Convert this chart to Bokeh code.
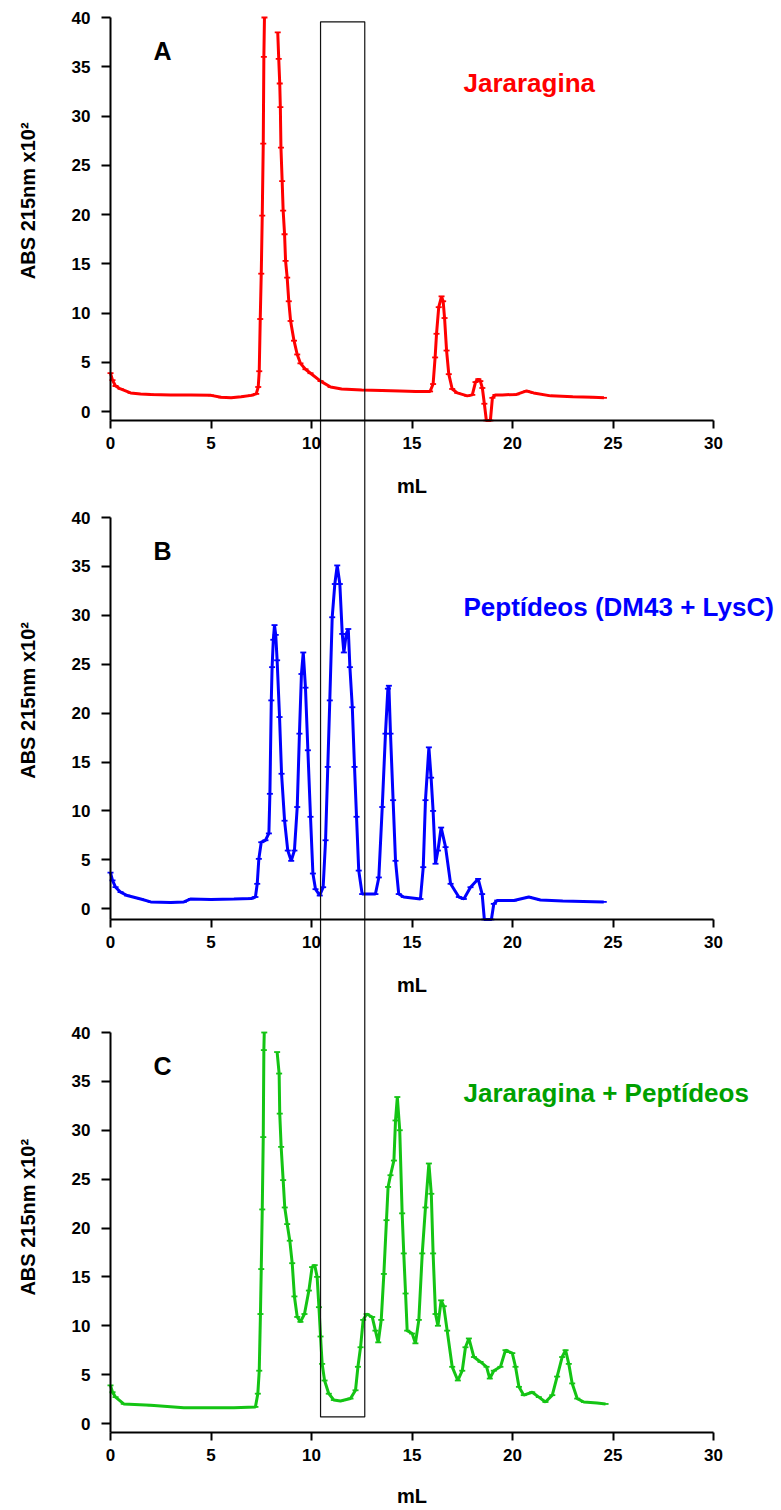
import math
from bokeh.plotting import figure
from bokeh.models import Label, FixedTicker, Range1d, LinearAxis
from bokeh.embed import file_html
from bokeh.resources import INLINE

NaN = float("nan")

# ---------------- data (mL, ABS 215nm x10^2) ----------------
ml_a = [0, 0.1, 0.25, 0.5, 1.0, 1.5, 2.0, 3.0, 4.0, 5.0, 5.5, 6.0, 6.5, 7.0, 7.25, 7.35,
        7.4, 7.45, 7.5, 7.55, 7.6, 7.63, 7.66, NaN,
        8.32, 8.37, 8.42, 8.45, 8.48, 8.54, 8.59, 8.66, 8.71, 8.79, 8.87, 8.96, 9.13, 9.29,
        9.45, 9.7, 9.95, 10.45, 10.95, 11.5, 12.5, 13.5, 14.4, 15.2, 15.9, 16.05, 16.15,
        16.22, 16.33, 16.47, 16.55, 16.62, 16.72, 16.83, 17.0, 17.25, 17.75, 18.0, 18.16,
        18.3, 18.4, 18.5, 18.6, 18.7, 18.8, 18.9, 19.0, 19.15, 19.5, 20.2, 20.7, 21.05,
        21.9, 23.0, 24.0, 24.55]
abs_a = [3.9, 3.2, 2.6, 2.3, 1.9, 1.8, 1.75, 1.7, 1.7, 1.65, 1.45, 1.4, 1.5, 1.65, 1.8, 2.5,
         4.1, 9.4, 14.0, 19.9, 27.2, 36.0, 40.0, NaN,
         38.5, 35.8, 33.3, 30.9, 26.8, 23.4, 20.4, 18.0, 15.3, 13.6, 11.2, 9.2, 7.2, 5.8,
         4.9, 4.3, 3.9, 3.1, 2.5, 2.3, 2.2, 2.15, 2.1, 2.05, 2.05, 2.8, 5.5,
         7.9, 10.6, 11.7, 11.2, 9.5, 6.2, 3.8, 2.3, 1.9, 1.6, 1.7, 3.0,
         3.3, 3.1, 2.4, 0.8, -0.9, -0.9, -0.9, 1.4, 1.7, 1.7, 1.75, 2.1, 1.9,
         1.6, 1.5, 1.45, 1.4]

ml_b = [0, 0.1, 0.25, 0.5, 0.83, 1.5, 2.0, 3.0, 3.65, 4.0, 5.0, 6.14, 7.0, 7.21, 7.3, 7.38,
        7.5, 7.71, 7.88, 7.93, 8.0, 8.04, 8.1, 8.16, 8.22, 8.29, 8.41, 8.51, 8.66, 8.82,
        8.99, 9.15, 9.29, 9.4, 9.5, 9.59, 9.7, 9.82, 9.95, 10.07, 10.2, 10.41, 10.58, 10.7,
        10.81, 10.91, 11.03, 11.16, 11.28, 11.41, 11.53, 11.61, 11.73, 11.83, 11.91, 12.03,
        12.14, 12.24, 12.35, 12.52, 13.18, 13.35, 13.52, 13.68, 13.8, 13.85, 13.93, 14.06,
        14.18, 14.34, 14.59, 15.42, 15.56, 15.67, 15.84, 15.95, 16.05, 16.17, 16.29, 16.45,
        16.67, 16.92, 17.33, 17.58, 17.91, 18.29, 18.49, 18.6, 18.75, 18.95, 19.07, 19.24,
        20.07, 20.81, 21.39, 22.5, 24.54]
abs_b = [3.7, 2.9, 2.2, 1.7, 1.35, 1.0, 0.7, 0.65, 0.7, 1.0, 0.95, 1.0, 1.05, 1.2, 2.55, 5.1,
         6.8, 7.0, 7.7, 11.75, 21.3, 24.7, 27.5, 29.0, 28.0, 25.4, 19.6, 13.8, 9.0, 5.95,
         4.9, 5.95, 10.4, 17.9, 24.0, 26.2, 22.6, 16.2, 9.4, 3.6, 2.0, 1.35, 2.2, 7.0,
         14.5, 21.3, 29.8, 33.2, 35.1, 33.2, 28.1, 26.2, 28.1, 28.6, 24.7, 20.6,
         14.5, 9.4, 3.9, 1.5, 1.5, 3.2, 10.4, 17.9, 22.5, 22.8, 17.9, 11.1,
         4.9, 1.5, 1.2, 1.0, 4.25, 11.1, 16.5, 13.4, 10.0, 4.6, 5.95, 8.3,
         6.3, 2.55, 1.2, 1.0, 2.2, 3.05, 1.5, -1.1, -1.1, -1.1, 0.5, 0.84,
         0.84, 1.2, 0.9, 0.8, 0.7]

ml_c = [0, 0.1, 0.25, 0.66, 2.0, 3.65, 5.0, 6.14, 7.21, 7.33, 7.4, 7.46, 7.5, 7.55, 7.6,
        7.63, 7.65, NaN,
        8.29, 8.39, 8.42, 8.49, 8.59, 8.67, 8.79, 8.92, 9.04, 9.15, 9.29, 9.45, 9.65, 9.87,
        10.03, 10.16, 10.28, 10.37, 10.45, 10.53, 10.65, 10.86, 11.11, 11.44, 11.94, 12.19,
        12.31, 12.44, 12.57, 12.74, 13.02, 13.18, 13.32, 13.47, 13.6, 13.73, 13.81, 13.93,
        14.1, 14.18, 14.27, 14.39, 14.51, 14.59, 14.68, 14.76, 15.01, 15.17, 15.34, 15.51,
        15.67, 15.84, 15.96, 16.05, 16.17, 16.29, 16.45, 16.58, 16.75, 17.0, 17.28, 17.5,
        17.66, 17.83, 18.08, 18.41, 18.71, 18.87, 19.07, 19.4, 19.65, 19.99, 20.15, 20.32,
        20.56, 20.98, 21.31, 21.64, 21.98, 22.22, 22.47, 22.64, 22.8, 22.97, 23.22, 23.55,
        24.21, 24.63]
abs_c = [3.9, 3.2, 2.7, 2.0, 1.86, 1.6, 1.6, 1.6, 1.7, 3.05, 5.4, 11.2, 15.8, 21.9, 29.3,
         38.2, 40.0, NaN,
         38.0, 35.8, 31.7, 28.3, 24.9, 22.1, 20.4, 18.7, 16.4, 13.0, 10.9, 10.4, 11.2, 13.6,
         16.0, 16.2, 15.0, 11.9, 8.9, 6.1, 4.4, 3.05, 2.4, 2.3, 2.55, 3.4,
         5.8, 7.8, 10.6, 11.2, 10.9, 9.5, 8.3, 10.6, 15.3, 20.8, 24.2, 25.4,
         26.9, 31.0, 33.4, 30.0, 21.5, 17.4, 13.3, 9.5, 9.2, 8.2, 10.6, 17.4,
         22.1, 26.6, 23.5, 17.4, 11.2, 10.0, 12.6, 12.0, 9.5, 5.8, 4.4, 5.4,
         7.8, 8.7, 6.8, 6.3, 5.8, 4.6, 5.4, 5.8, 7.5, 7.2, 5.8, 3.75,
         2.9, 3.2, 2.7, 2.2, 2.9, 4.8, 6.8, 7.5, 6.1, 4.1, 2.55, 2.2,
         2.1, 2.0]

x_ticks = [0, 5, 10, 15, 20, 25, 30]
y_ticks = [0, 5, 10, 15, 20, 25, 30, 35, 40]

panel_letters = ["A", "B", "C"]
panel_titles = ["Jararagina", "Peptídeos (DM43 + LysC)", "Jararagina + Peptídeos"]
line_colors = ["#ff0000", "#0000ff", "#14c414"]
title_colors = ["#ff0000", "#0000ff", "#00a000"]
y_label = "ABS 215nm x10²"
x_label = "mL"

# highlighted elution window (mL), from top of panel A (ABS 39.56) to panel C (ABS 0.67)
win_left, win_right = 10.45, 12.65
win_top_a, win_bottom_c = 39.56, 0.67

# ---------------- layout (pixels) ----------------
W, H = 781, 1510
X0_PX, X30_PX = 110, 713                      # where 0 mL and 30 mL sit
# per panel: pixel of value 40, pixel of the x axis, value at x axis
panel_px = [(17, 420, -0.9), (517, 919, -1.1), (1032, 1432, -0.92)]
# per panel: title baseline value, y label centre value, "mL" centre value
title_y = [33.4, 30.8, 33.8]
ylab_y = [21.4, 21.3, 21.1]
xlab_y = [-7.5, -7.8, -7.4]

FONT = "Liberation Sans"

sx = (X30_PX - X0_PX) / 30.0
x_range = Range1d(-X0_PX / sx, (W - X0_PX) / sx)


def y_range_for(top_px, bot_px, vmin, vmax=40.0):
    s = (bot_px - top_px) / (vmax - vmin)
    return Range1d(vmin - (H - bot_px) / s, vmax + top_px / s), s


ranges = [y_range_for(*pp) for pp in panel_px]
names = ["default", "b", "c"]

p = figure(width=W, height=H, x_range=x_range, y_range=ranges[0][0],
           x_axis_location=None, y_axis_location=None,
           output_backend="svg", toolbar_location=None,
           min_border=0, min_border_left=0, min_border_right=0,
           min_border_top=0, min_border_bottom=0)
p.extra_y_ranges = {"b": ranges[1][0], "c": ranges[2][0]}
p.grid.visible = False
p.outline_line_color = None
p.background_fill_color = "white"
p.border_fill_color = "white"


def style_axis(ax):
    ax.axis_line_width = 2
    ax.axis_line_color = "black"
    ax.major_tick_line_width = 2
    ax.major_tick_line_color = "black"
    ax.minor_tick_line_color = None
    ax.major_tick_in = 0
    ax.major_label_text_font = FONT
    ax.major_label_text_font_style = "bold"
    ax.major_label_text_font_size = "17px"
    ax.major_label_text_color = "black"


series = [(ml_a, abs_a), (ml_b, abs_b), (ml_c, abs_c)]

for i in range(3):
    name = names[i]
    vmin = panel_px[i][2]
    xs, ys = series[i]

    p.line(xs, ys, color=line_colors[i], line_width=3, y_range_name=name)
    p.scatter(xs, ys, marker="dash", size=6, color=line_colors[i], line_width=1.8,
              y_range_name=name)

    yax = LinearAxis(y_range_name=name, fixed_location=0, bounds=(vmin, 40),
                     ticker=FixedTicker(ticks=y_ticks))
    style_axis(yax)
    yax.major_tick_out = 9
    yax.major_label_standoff = 11
    p.add_layout(yax, "left")

    xax = LinearAxis(y_range_name=name, fixed_location=vmin, bounds=(0, 30),
                     ticker=FixedTicker(ticks=x_ticks))
    style_axis(xax)
    xax.major_tick_out = 8
    xax.major_label_standoff = 8
    p.add_layout(xax, "below")

    p.add_layout(Label(x=-4.08, y=ylab_y[i], y_range_name=name, text=y_label,
                       angle=math.pi / 2, text_align="center", text_baseline="middle",
                       text_font=FONT, text_font_style="bold", text_font_size="20px",
                       text_color="black"))
    p.add_layout(Label(x=15, y=xlab_y[i], y_range_name=name, text=x_label,
                       text_align="center", text_baseline="middle",
                       text_font=FONT, text_font_style="bold", text_font_size="20px",
                       text_color="black"))
    p.add_layout(Label(x=2.14, y=36.6, y_range_name=name, text=panel_letters[i],
                       text_baseline="alphabetic",
                       text_font=FONT, text_font_style="bold", text_font_size="25px",
                       text_color="black"))
    p.add_layout(Label(x=17.56, y=title_y[i], y_range_name=name, text=panel_titles[i],
                       text_baseline="alphabetic",
                       text_font=FONT, text_font_style="bold", text_font_size="26px",
                       text_color=title_colors[i]))

# window rectangle: bottom (panel C value) expressed in panel A units
sA = ranges[0][1]
sC = ranges[2][1]
bottom_px = panel_px[2][0] + (40.0 - win_bottom_c) * sC
win_bottom_in_a = 40.0 - (bottom_px - panel_px[0][0]) / sA
p.quad(left=[win_left], right=[win_right], top=[win_top_a], bottom=[win_bottom_in_a],
       fill_alpha=0, line_color="#111111", line_width=1.2)

open("out.html", "w").write(file_html(p, INLINE))
